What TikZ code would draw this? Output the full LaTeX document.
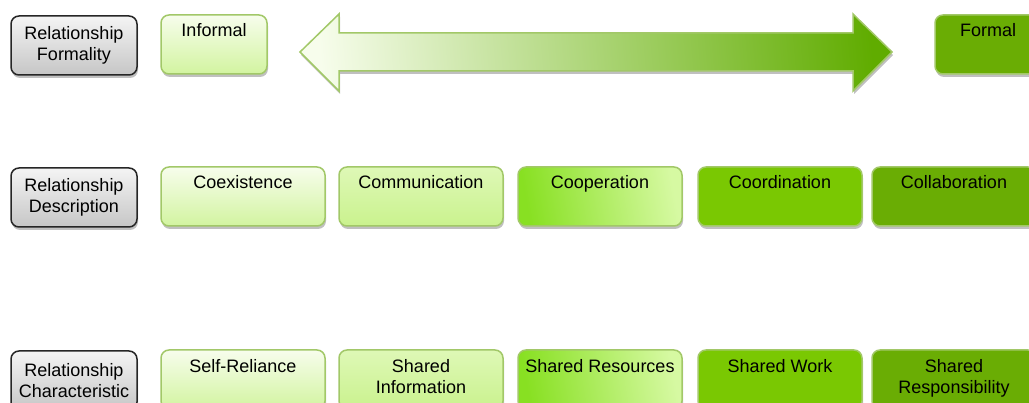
\documentclass[tikz,border=0pt]{standalone}
\usepackage{fontspec}
\setmainfont{Liberation Sans}
\usetikzlibrary{positioning,shadows}

\definecolor{graytop}{RGB}{244,244,244}
\definecolor{graybot}{RGB}{198,198,198}
\definecolor{leaftop}{RGB}{247,253,236}
\definecolor{leafbot}{RGB}{210,244,160}
\definecolor{sprouttop}{RGB}{222,248,182}
\definecolor{sproutbot}{RGB}{202,242,142}
\definecolor{limeleft}{RGB}{136,224,34}
\definecolor{limeright}{RGB}{214,249,162}
\definecolor{grass}{RGB}{122,200,2}
\definecolor{moss}{RGB}{106,173,4}
\definecolor{rimgreen}{RGB}{162,200,104}
\definecolor{arrowend}{RGB}{96,172,0}
\definecolor{arrowmid}{RGB}{160,222,76}

\begin{document}
\begin{tikzpicture}[
			x=1pt,y=-1pt,
			every node/.style={
				font=\fontsize{18}{21}\selectfont,
				align=center,
				inner sep=0pt,
			},
			softshadow/.style={
				drop shadow={shadow xshift=1pt,shadow yshift=-3pt,fill=black!45,opacity=.55},
			},
			box/.style={
				rectangle,
				rounded corners=8pt,
				draw=rimgreen,
				line width=1.5pt,
				minimum width=164pt,
				minimum height=59pt,
				softshadow,
			},
			tag/.style={box,draw=black!85,minimum width=126pt,top color=graytop,bottom color=graybot},
			leaf/.style={box,top color=leaftop,bottom color=leafbot},
			sprout/.style={box,top color=sprouttop,bottom color=sproutbot},
			lime/.style={box,left color=limeleft,right color=limeright,shading angle=100},
			grassbox/.style={box,fill=grass},
			mossbox/.style={box,fill=moss},
		]
		\clip (0,0) rectangle (1029,403);
		% formality
		\node[tag](formality) at (74,45.5) {Relationship\\Formality};
		\node[leaf,minimum width=106pt](informal) at (214,44.5) {};
		\node[below=9pt of informal.north](informal-t) {Informal};
		\node[mossbox,minimum width=106pt](formal) at (988,44.5) {};
		\node[below=9pt of formal.north](formal-t) {Formal};
		\path[draw=rimgreen,line width=1.5pt,softshadow,left color=leaftop,middle color=arrowmid,right color=arrowend,shading angle=95]
			(300,52) -- (339,14) -- (339,33) -- (853,33) -- (853,14) -- (892,52)
			-- (853,91) -- (853,71) -- (339,71) -- (339,91) -- cycle;
		% description
		\node[tag](description) at (74,197.5) {Relationship\\Description};
		\node[leaf](coex)   at (243,196.5) {};
		\node[sprout](comm) at (421,196.5) {};
		\node[lime](coop)   at (600,196.5) {};
		\node[grassbox](coord) at (780,196.5) {};
		\node[mossbox](collab) at (954,196.5) {};
		\node[below=9pt of coex.north](coex-t)     {Coexistence};
		\node[below=9pt of comm.north](comm-t)     {Communication};
		\node[below=9pt of coop.north](coop-t)     {Cooperation};
		\node[below=9pt of coord.north](coord-t)   {Coordination};
		\node[below=9pt of collab.north](collab-t) {Collaboration};
		% characteristic
		\node[tag](characteristic) at (74,380.5) {Relationship\\Characteristic};
		\node[leaf](selfrel)   at (243,379.5) {};
		\node[sprout](shinfo)  at (421,379.5) {};
		\node[lime](shres)     at (600,379.5) {};
		\node[grassbox](shwork) at (780,379.5) {};
		\node[mossbox](shresp) at (954,379.5) {};
		\node[below=10pt of selfrel.north](selfrel-t) {Self-Reliance};
		\node[below=10pt of shinfo.north](shinfo-t)   {Shared\\Information};
		\node[below=10pt of shres.north](shres-t)     {Shared Resources};
		\node[below=10pt of shwork.north](shwork-t)   {Shared Work};
		\node[below=10pt of shresp.north](shresp-t)   {Shared\\Responsibility};
	\end{tikzpicture}
\end{document}
